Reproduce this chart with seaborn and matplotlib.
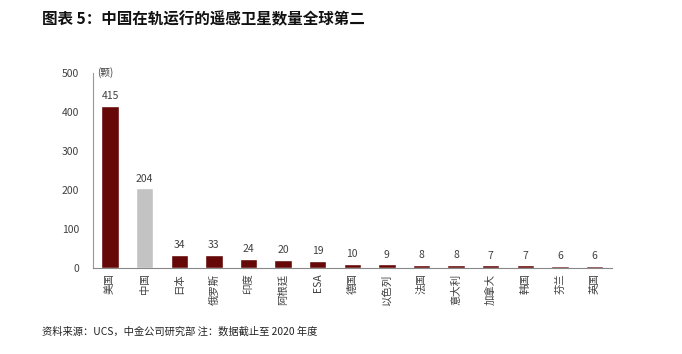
import pandas as pd
import seaborn as sns
import matplotlib.pyplot as plt

# 各国在轨遥感卫星数量
countries = ["美国", "中国", "日本", "俄罗斯", "印度", "阿根廷", "ESA", "德国",
             "以色列", "法国", "意大利", "加拿大", "韩国", "芬兰", "英国"]
counts = [415, 204, 34, 33, 24, 20, 19, 10, 9, 8, 8, 7, 7, 6, 6]

df = pd.DataFrame({"country": countries, "count": counts})

sns.set_style("white")
plt.rcParams['font.family'] = ['Noto Sans CJK SC', 'DejaVu Sans']

dark_red = "#660808"
grey = "#c3c3c3"
palette = {c: (grey if c == "中国" else dark_red) for c in countries}

fig = plt.figure(figsize=(6.82, 3.54), dpi=100)
ax = fig.add_axes([0.136, 0.243, 0.761, 0.551])

sns.barplot(data=df, x="country", y="count", hue="country", palette=palette,
            width=0.5, legend=False, ax=ax, saturation=1)

# 数据标签
for i, v in enumerate(counts):
    ax.text(i, v + 12, str(v), ha="center", va="bottom", fontsize=7.5, color="#404040")

ax.set_ylim(0, 500)
ax.set_xlim(-0.5, len(countries) - 0.5)
ax.set_yticks([0, 100, 200, 300, 400, 500])
ax.set_xlabel("")
ax.set_ylabel("")
ax.tick_params(axis="y", labelsize=7.5, labelcolor="#404040", length=0, pad=10)
ax.tick_params(axis="x", labelsize=7.5, labelcolor="#404040", length=0, pad=4)
plt.setp(ax.get_xticklabels(), rotation=90)

# 类别之间的刻度线
ax.set_xticks([i + 0.5 for i in range(-1, len(countries))], minor=True)
ax.tick_params(axis="x", which="minor", length=3, color="#888888", direction="out")

for s in ["top", "right"]:
    ax.spines[s].set_visible(False)
ax.spines["left"].set_color("#999999")
ax.spines["bottom"].set_color("#888888")
ax.spines["left"].set_linewidth(0.8)
ax.spines["bottom"].set_linewidth(0.8)

ax.text(-0.15, 500, "(颗)", fontsize=7, color="#404040", va="center", ha="center")

fig.text(0.062, 0.945, "图表 5：中国在轨运行的遥感卫星数量全球第二", fontsize=11.2,
         fontweight="bold", color="#111111", va="center")
fig.text(0.062, 0.062, "资料来源：UCS，中金公司研究部 注：数据截止至 2020 年度",
         fontsize=7.4, color="#222222", va="center")

fig.savefig("out.png", dpi=100)
